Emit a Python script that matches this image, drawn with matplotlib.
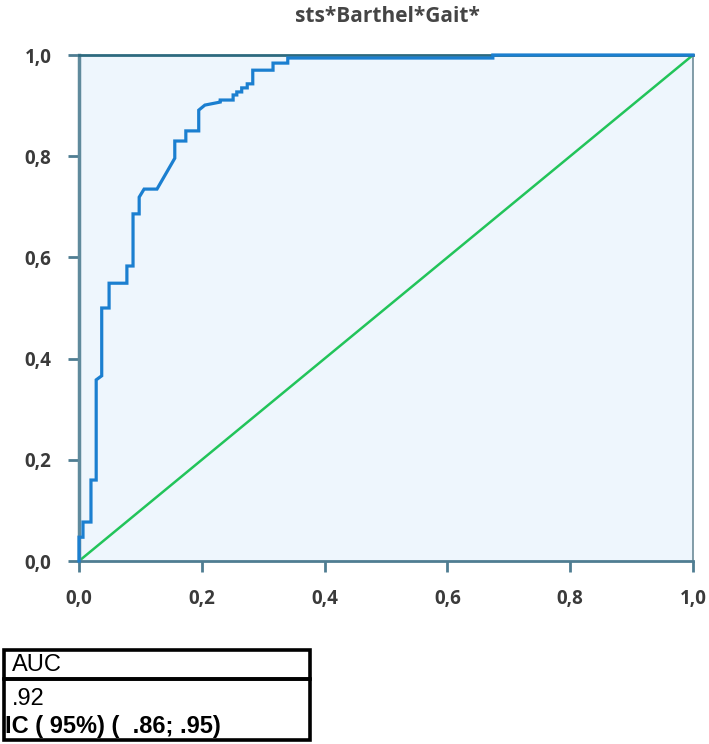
import matplotlib
matplotlib.use("Agg")
import matplotlib.pyplot as plt
from matplotlib.patches import Rectangle

title = "sts*Barthel*Gait*"
fpr = [0.0, 0.0, 0.0065, 0.0065, 0.0195, 0.0195, 0.028, 0.028, 0.037, 0.037, 0.049, 0.049,
       0.078, 0.078, 0.088, 0.088, 0.098, 0.098, 0.106, 0.127, 0.156, 0.156, 0.174, 0.174,
       0.195, 0.195, 0.205, 0.230, 0.230, 0.251, 0.251, 0.257, 0.257, 0.265, 0.265, 0.274,
       0.274, 0.283, 0.283, 0.316, 0.316, 0.340, 0.340, 0.674, 0.674, 1.0]
tpr = [0.0, 0.047, 0.047, 0.077, 0.077, 0.160, 0.160, 0.358, 0.366, 0.500, 0.500, 0.549,
       0.549, 0.583, 0.583, 0.686, 0.686, 0.719, 0.735, 0.735, 0.796, 0.830, 0.830, 0.850,
       0.850, 0.891, 0.901, 0.907, 0.911, 0.911, 0.921, 0.921, 0.927, 0.927, 0.935, 0.935,
       0.943, 0.943, 0.970, 0.970, 0.984, 0.984, 0.994, 0.994, 1.0, 1.0]
ref_x = [0.0, 1.0]
ref_y = [0.0, 1.0]
ticks = [0.0, 0.2, 0.4, 0.6, 0.8, 1.0]
tick_labels = ["0,0", "0,2", "0,4", "0,6", "0,8", "1,0"]
table_header = "AUC"
table_value = ".92"
table_ci = "IC ( 95%) (  .86; .95)"

W, H = 709, 744
fig = plt.figure(figsize=(W / 100, H / 100), dpi=100)
ax = fig.add_axes([79 / W, 1 - 561 / H, 614 / W, 506 / H])
ax.set_facecolor("#eef6fd")
ax.plot(ref_x, ref_y, color="#22c45a", lw=1.8, zorder=2)
ax.plot(fpr, tpr, color="#1b7fd0", lw=2.3, zorder=4, solid_joinstyle="miter", clip_on=False)
ax.set_xlim(0, 1)
ax.set_ylim(0, 1)
ax.set_xticks(ticks)
ax.set_yticks(ticks)
ax.set_xticklabels(tick_labels)
ax.set_yticklabels(tick_labels)
for lab in ax.get_xticklabels() + ax.get_yticklabels():
    lab.set_fontfamily("Open Sans")
    lab.set_fontweight("bold")
    lab.set_fontsize(13.5)
    lab.set_color("#3a3a3a")
ax.tick_params(axis="both", direction="out", length=8, width=2, color="#4f7d92", pad=12)
ax.spines["left"].set_color("#5f8a9c")
ax.spines["left"].set_linewidth(2.5)
ax.spines["bottom"].set_color("#4f7d92")
ax.spines["bottom"].set_linewidth(2)
ax.spines["top"].set_color("#2d6a7f")
ax.spines["top"].set_linewidth(2)
ax.spines["right"].set_color("#6d8c99")
ax.spines["right"].set_linewidth(1.2)
for s in ax.spines.values():
    s.set_zorder(3)

fig.text(387 / W, 1 - 16 / H, title, ha="center", va="center", fontsize=15,
         fontweight="bold", family="Open Sans", color="#454545")

# table
def rect(x0, y0, x1, y1):
    fig.patches.append(Rectangle((x0 / W, 1 - y1 / H), (x1 - x0) / W, (y1 - y0) / H,
                                 transform=fig.transFigure, fill=False, edgecolor="black",
                                 linewidth=2.6))
rect(4, 650, 310, 679)
rect(4, 679, 310, 740)
fig.text(12 / W, 1 - 665 / H, table_header, ha="left", va="center", fontsize=17,
         family="Liberation Sans", color="black")
fig.text(12 / W, 1 - 705 / H, table_value, ha="left", va="baseline", fontsize=17,
         family="Liberation Sans", color="black")
fig.text(5 / W, 1 - 733 / H, table_ci, ha="left", va="baseline", fontsize=17,
         family="Liberation Sans", fontweight="bold", color="black")

fig.savefig("out.png", dpi=100)
